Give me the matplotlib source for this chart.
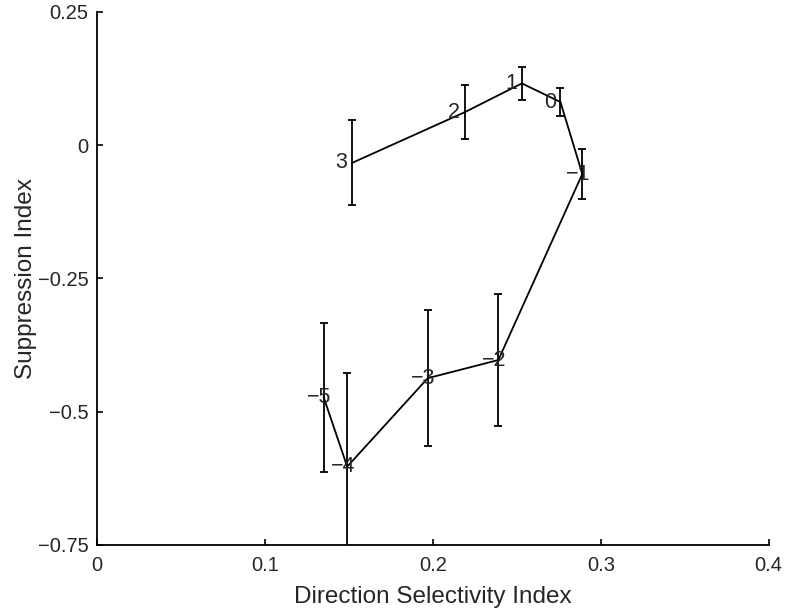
import matplotlib
matplotlib.use("Agg")
import matplotlib.pyplot as plt
from matplotlib.ticker import FixedLocator

# data
labels = ["3", "2", "1", "0", "\u22121", "\u22122", "\u22123", "\u22124", "\u22125"]
dsi = [0.152, 0.219, 0.253, 0.276, 0.289, 0.239, 0.197, 0.149, 0.135]
supp = [-0.033, 0.062, 0.116, 0.081, -0.054, -0.403, -0.437, -0.603, -0.473]
err = [0.080, 0.051, 0.031, 0.026, 0.047, 0.124, 0.128, 0.175, 0.140]

xticks = [0, 0.1, 0.2, 0.3, 0.4]
xticklabels = ["0", "0.1", "0.2", "0.3", "0.4"]
yticks = [-0.75, -0.5, -0.25, 0, 0.25]
yticklabels = ["\u22120.75", "\u22120.5", "\u22120.25", "0", "0.25"]

plt.rcParams['font.family'] = ['Liberation Sans', 'DejaVu Sans']
txt = '#262626'

fig = plt.figure(figsize=(7.86, 6.14), dpi=100)
ax = fig.add_axes([0.1234, 0.1124, 0.8546, 0.8681])

ax.errorbar(dsi, supp, yerr=err, color='black', lw=1.3, elinewidth=1.3,
            capsize=2.6, capthick=1.3)

for lab, x, y in zip(labels, dsi, supp):
    ax.annotate(lab, (x, y), xytext=(-12, 0), textcoords='offset points',
                ha='left', va='center', fontsize=15.5, color=txt)

ax.set_xlim(0, 0.4)
ax.set_ylim(-0.75, 0.25)
ax.xaxis.set_major_locator(FixedLocator(xticks))
ax.set_xticklabels(xticklabels)
ax.yaxis.set_major_locator(FixedLocator(yticks))
ax.set_yticklabels(yticklabels)
ax.tick_params(direction='in', length=4, width=1.2, labelsize=14.5, colors='black',
               labelcolor=txt)
ax.tick_params(axis='x', pad=8)
ax.tick_params(axis='y', pad=6)

for s in ['top', 'right']:
    ax.spines[s].set_visible(False)
for s in ['left', 'bottom']:
    ax.spines[s].set_linewidth(1.3)

ax.set_xlabel('Direction Selectivity Index', fontsize=17.5, color=txt, labelpad=8)
ax.set_ylabel('Suppression Index', fontsize=17.5, color=txt, labelpad=1)

fig.savefig('out.png', dpi=100)
